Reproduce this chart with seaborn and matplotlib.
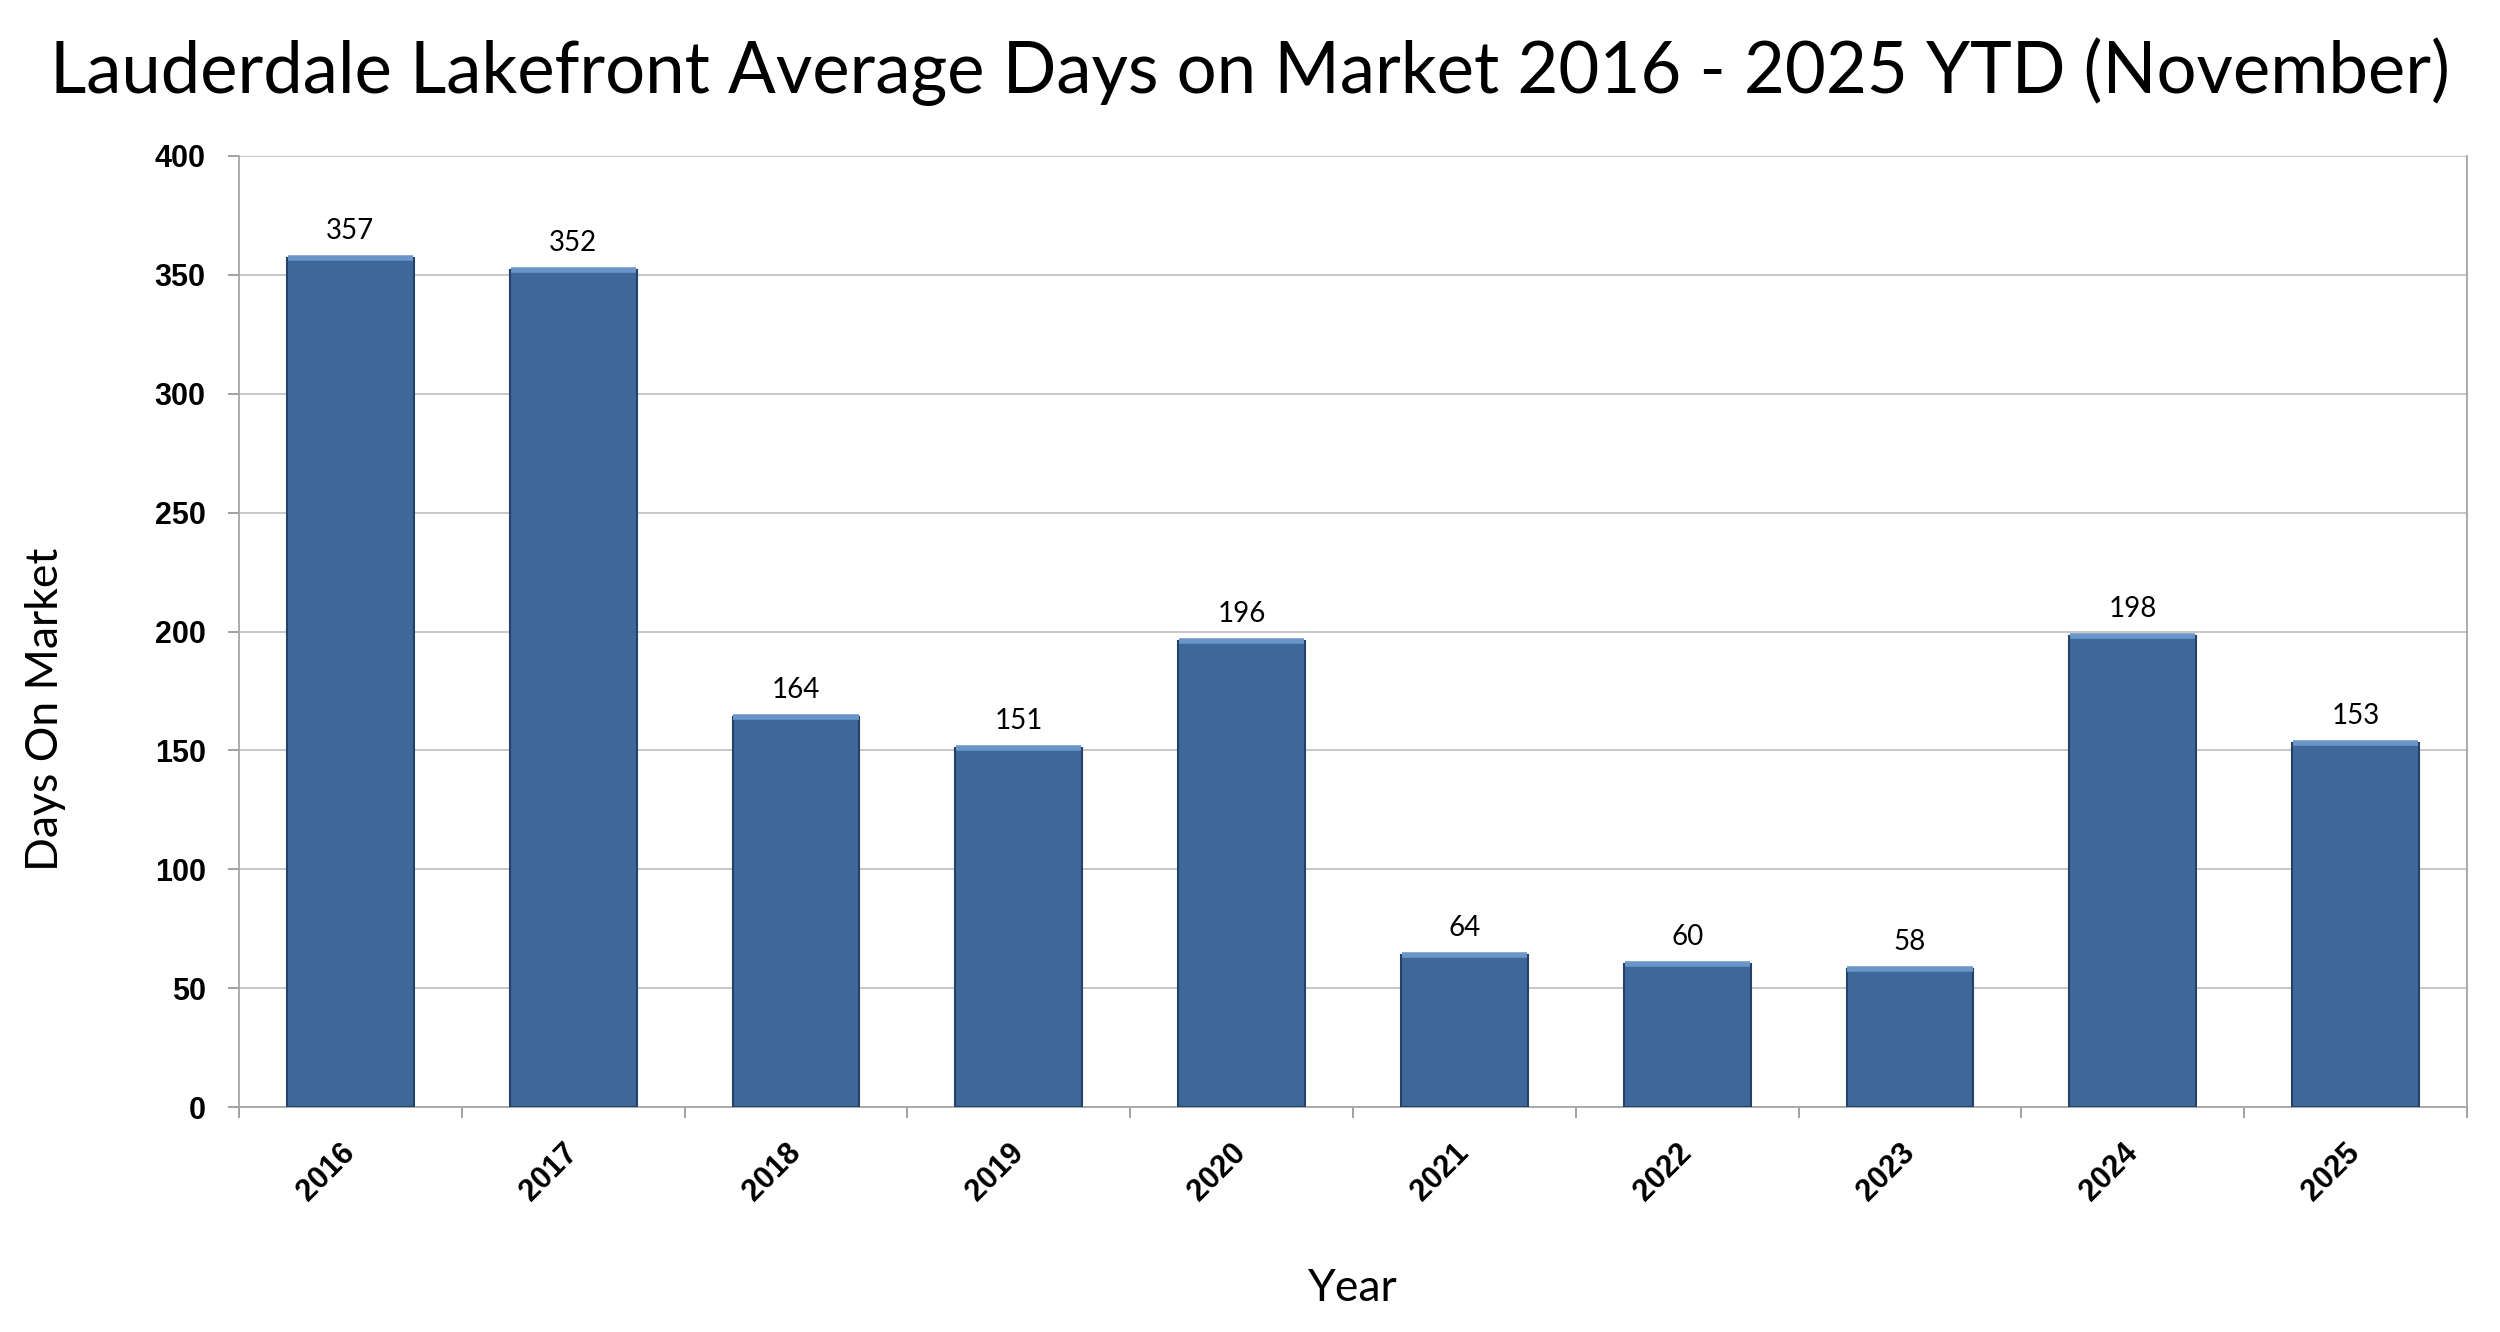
import pandas as pd
import numpy as np
import matplotlib
matplotlib.use('Agg')
from matplotlib import pyplot as plt
import seaborn as sb

years = ['2016', '2017', '2018', '2019', '2020', '2021', '2022', '2023', '2024', '2025']
days = [357, 352, 164, 151, 196, 64, 60, 58, 198, 153]
y_ticks = [0, 50, 100, 150, 200, 250, 300, 350, 400]

sb.set_theme(style='white')
plt.rcParams['font.family'] = ['Lato', 'DejaVu Sans']
plt.rcParams['text.color'] = 'black'
plt.rcParams['axes.labelcolor'] = 'black'

data = pd.DataFrame({'Year': years, 'Days': days})

fig = plt.figure(figsize=(25, 13.32), dpi=100)
ax = fig.add_axes([0.0956, 0.1689, 0.8912, 0.714])

sb.barplot(data=data, x='Year', y='Days', color='#3e6899', saturation=1,
           width=0.57, edgecolor='#24416a', linewidth=1.5, ax=ax, zorder=3)

# light bevel along the top of each bar
for p in ax.patches:
    ax.plot([p.get_x() + 0.004, p.get_x() + p.get_width() - 0.004],
            [p.get_height(), p.get_height()], color='#6a95c8', lw=4,
            solid_capstyle='butt', zorder=4)

for p, v in zip(ax.patches, days):
    ax.annotate(str(v), (p.get_x() + p.get_width() / 2, p.get_height()),
                xytext=(0, 10), textcoords='offset points',
                ha='center', va='bottom', fontsize=20, color='black')

ax.set_ylim(0, 400)
ax.set_xlim(-0.5, len(years) - 0.5)
ax.set_yticks(y_ticks)
ax.set_yticklabels([str(t) for t in y_ticks])
ax.yaxis.grid(True, color='#c3c3c3', lw=1.3, zorder=0)
ax.tick_params(axis='y', length=8, width=1.3, color='#9a9a9a', pad=16, left=True,
               labelcolor='black', labelsize=22)

# year labels at bar centres, tick marks at category boundaries
ax.set_xticks(range(len(years)))
ax.set_xticklabels(years, rotation=45, ha='right', va='center', rotation_mode='anchor')
ax.tick_params(axis='x', which='major', length=0, pad=30, labelcolor='black', labelsize=22)
ax.set_xticks(np.arange(-0.5, len(years), 1), minor=True)
ax.tick_params(axis='x', which='minor', length=8, width=1.3, color='#9a9a9a', bottom=True)

for lbl in ax.get_xticklabels() + ax.get_yticklabels():
    lbl.set_fontfamily(['Liberation Sans', 'DejaVu Sans'])
    lbl.set_fontweight('bold')
    lbl.set_fontsize(22)

for side in ['left', 'bottom', 'right']:
    ax.spines[side].set_color('#a6a6a6')
    ax.spines[side].set_linewidth(1.3)
ax.spines['top'].set_visible(False)

ax.set_xlabel('Year', fontsize=32, labelpad=44)
ax.set_ylabel('Days On Market', fontsize=32)
ax.yaxis.set_label_coords(-0.087, 0.418)
ax.yaxis.label.set_ha('center')
ax.yaxis.label.set_va('center')

title = fig.suptitle('Lauderdale Lakefront Average Days on Market 2016 - 2025 YTD (November)',
                     fontsize=53, y=0.972, va='top', color='black')
# fit the title to the width it has in the original chart
renderer = fig.canvas.get_renderer()
w = title.get_window_extent(renderer).width
title.set_fontsize(53 * 2400 / w)

plt.savefig('out.png', format='png')
plt.close()
